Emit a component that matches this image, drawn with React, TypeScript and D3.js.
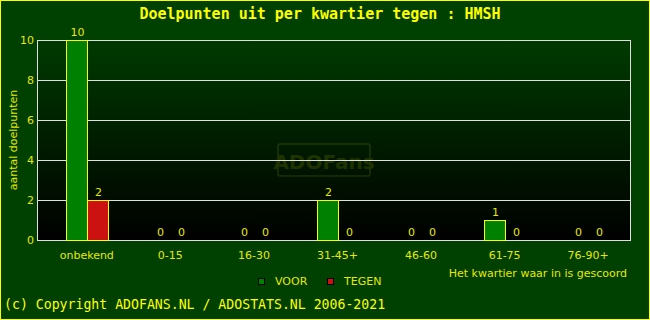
import { useEffect, useRef } from 'react';
import * as d3 from 'd3';

const categories = ['onbekend', '0-15', '16-30', '31-45+', '46-60', '61-75', '76-90+'];
const voor = [10, 0, 0, 2, 0, 1, 0];
const tegen = [2, 0, 0, 0, 0, 0, 0];
const yTicks = [0, 2, 4, 6, 8, 10];

export default function App() {
  const svgRef = useRef<SVGSVGElement>(null);

  useEffect(() => {
    document.body.style.margin = '0';
    if (!svgRef.current) return;

    const svg = d3.select(svgRef.current);
    svg.selectAll('*').remove();

    const width = 650;
    const height = 320;
    const plot = { left: 37, right: 630, top: 40, bottom: 240 };
    const yellow = '#ffff00';
    const mono = '"DejaVu Sans Mono", monospace';
    const sans = '"DejaVu Sans", sans-serif';

    // Background + frame
    svg.append('rect')
      .attr('x', 0.5).attr('y', 0.5)
      .attr('width', width - 1).attr('height', height - 1)
      .attr('fill', '#004000')
      .attr('stroke', yellow);

    const defs = svg.append('defs');
    const grad = defs.append('linearGradient')
      .attr('id', 'plotbg')
      .attr('x1', 0).attr('y1', 0).attr('x2', 0).attr('y2', 1);
    grad.append('stop').attr('offset', '0%').attr('stop-color', '#003a00');
    grad.append('stop').attr('offset', '100%').attr('stop-color', '#000000');

    svg.append('rect')
      .attr('x', plot.left).attr('y', plot.top)
      .attr('width', plot.right - plot.left)
      .attr('height', plot.bottom - plot.top)
      .attr('fill', 'url(#plotbg)');

    // Watermark
    const wm = svg.append('g').attr('opacity', 0.22);
    wm.append('rect')
      .attr('x', 278).attr('y', 144)
      .attr('width', 92).attr('height', 32)
      .attr('rx', 2)
      .attr('fill', 'none')
      .attr('stroke', '#8a9a00')
      .attr('stroke-width', 1.5);
    wm.append('text')
      .attr('x', 324).attr('y', 169)
      .attr('text-anchor', 'middle')
      .style('font-family', sans)
      .style('font-weight', 'bold')
      .style('font-size', '20px')
      .attr('fill', '#8a9a00')
      .text('ADOFans');

    // Scales
    const x = d3.scaleBand<string>()
      .domain(categories)
      .range([45, plot.right])
      .paddingInner(0);

    const y = d3.scaleLinear()
      .domain([0, 10])
      .range([plot.bottom, plot.top]);

    // Grid
    svg.append('g')
      .selectAll('line')
      .data(yTicks)
      .enter()
      .append('line')
      .attr('x1', plot.left).attr('x2', plot.right)
      .attr('y1', d => y(d) + 0.5).attr('y2', d => y(d) + 0.5)
      .attr('stroke', '#e0e0e0');

    svg.append('rect')
      .attr('x', plot.left + 0.5).attr('y', plot.top + 0.5)
      .attr('width', plot.right - plot.left)
      .attr('height', plot.bottom - plot.top)
      .attr('fill', 'none')
      .attr('stroke', '#e0e0e0');

    // Bars
    const barW = 21;
    const series = [
      { values: voor, color: '#008000', offset: -barW },
      { values: tegen, color: '#cc1111', offset: 0 },
    ];

    series.forEach(s => {
      const cx = (c: string) => (x(c) as number) + x.bandwidth() / 2;
      svg.append('g')
        .selectAll('rect')
        .data(categories)
        .enter()
        .filter((_, i) => s.values[i] > 0)
        .append('rect')
        .attr('x', c => Math.round(cx(c) + s.offset) + 0.5)
        .attr('y', c => y(s.values[categories.indexOf(c)]) + 0.5)
        .attr('width', barW)
        .attr('height', c => plot.bottom - y(s.values[categories.indexOf(c)]))
        .attr('fill', s.color)
        .attr('stroke', yellow);

      svg.append('g')
        .selectAll('text')
        .data(categories)
        .enter()
        .append('text')
        .attr('x', c => Math.round(cx(c) + s.offset) + barW / 2 + 1)
        .attr('y', (c, i) => y(s.values[i]) - 4)
        .attr('text-anchor', 'middle')
        .style('font-family', sans)
        .style('font-size', '11px')
        .attr('fill', '#e8e800')
        .text((c, i) => String(s.values[i]));
    });

    // Y axis labels
    svg.append('g')
      .selectAll('text')
      .data(yTicks)
      .enter()
      .append('text')
      .attr('x', 34)
      .attr('y', d => y(d) + 4)
      .attr('text-anchor', 'end')
      .style('font-family', sans)
      .style('font-size', '11px')
      .attr('fill', '#e8e800')
      .text(d => String(d));

    svg.append('text')
      .attr('transform', 'rotate(-90)')
      .attr('x', -140)
      .attr('y', 17)
      .attr('text-anchor', 'middle')
      .style('font-family', sans)
      .style('font-size', '11px')
      .attr('fill', '#e8e800')
      .text('aantal doelpunten');

    // X axis labels
    svg.append('g')
      .selectAll('text')
      .data(categories)
      .enter()
      .append('text')
      .attr('x', c => (x(c) as number) + x.bandwidth() / 2)
      .attr('y', 259)
      .attr('text-anchor', 'middle')
      .style('font-family', sans)
      .style('font-size', '11px')
      .attr('fill', '#e8e800')
      .text(c => c);

    svg.append('text')
      .attr('x', 627)
      .attr('y', 277)
      .attr('text-anchor', 'end')
      .style('font-family', sans)
      .style('font-size', '11px')
      .attr('fill', '#e8e800')
      .text('Het kwartier waar in is gescoord');

    // Legend
    const legendData = [
      { label: 'VOOR', color: '#008000', x: 258 },
      { label: 'TEGEN', color: '#cc1111', x: 327 },
    ];
    legendData.forEach(item => {
      svg.append('rect')
        .attr('x', item.x + 0.5).attr('y', 278.5)
        .attr('width', 6).attr('height', 6)
        .attr('fill', item.color)
        .attr('stroke', '#000');
      svg.append('text')
        .attr('x', item.x + 17)
        .attr('y', 285)
        .style('font-family', sans)
        .style('font-size', '11px')
        .attr('fill', '#e8e800')
        .text(item.label);
    });

    // Title
    svg.append('text')
      .attr('x', 320)
      .attr('y', 19)
      .attr('text-anchor', 'middle')
      .style('font-family', mono)
      .style('font-weight', 'bold')
      .style('font-size', '15px')
      .attr('fill', yellow)
      .text('Doelpunten uit per kwartier tegen : HMSH');

    // Footer
    svg.append('text')
      .attr('x', 4)
      .attr('y', 309)
      .style('font-family', mono)
      .style('font-size', '13.2px')
      .attr('fill', yellow)
      .text('(c) Copyright ADOFANS.NL / ADOSTATS.NL 2006-2021');
  }, []);

  return (
    <svg ref={svgRef} width={650} height={320} style={{ display: 'block' }} />
  );
}
